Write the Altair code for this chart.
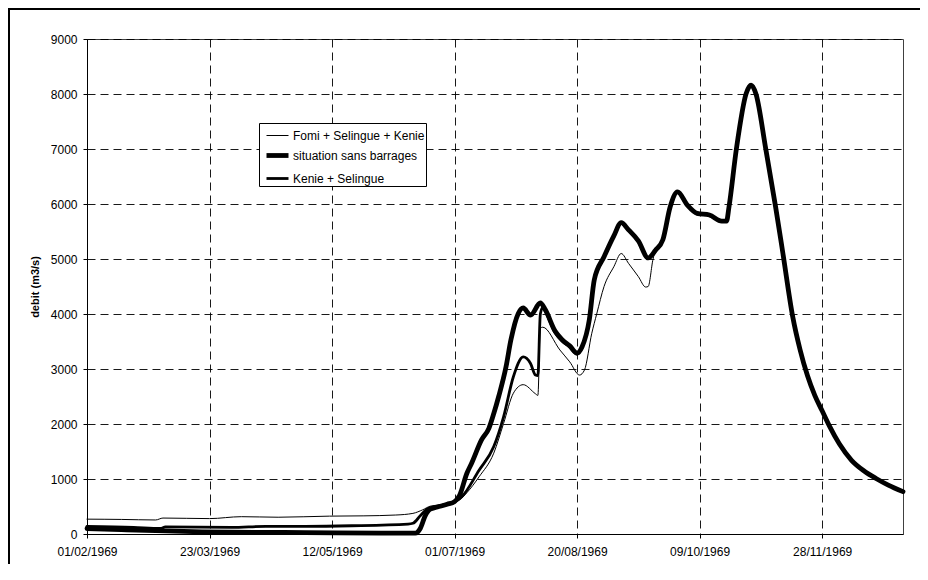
import altair as alt
import pandas as pd

# ---------------- data ----------------
series_names = ["Fomi + Selingue + Kenie", "situation sans barrages", "Kenie + Selingue"]

fomi_dates = ["1969-02-01", "1969-02-15", "1969-03-01", "1969-03-04", "1969-03-23", "1969-04-05",
              "1969-04-20", "1969-05-11", "1969-05-25", "1969-06-07", "1969-06-14", "1969-06-18",
              "1969-06-21", "1969-06-25", "1969-06-28", "1969-07-01", "1969-07-03", "1969-07-06",
              "1969-07-11", "1969-07-17", "1969-07-21", "1969-07-25", "1969-07-29", "1969-08-03",
              "1969-08-04", "1969-08-05", "1969-08-06", "1969-08-13", "1969-08-17", "1969-08-21",
              "1969-08-23", "1969-08-26", "1969-08-28", "1969-08-31", "1969-09-04", "1969-09-07",
              "1969-09-10", "1969-09-14", "1969-09-17", "1969-09-18", "1969-09-20", "1969-09-21",
              "1969-09-24", "1969-09-27", "1969-09-30", "1969-10-04", "1969-10-08", "1969-10-13",
              "1969-10-18", "1969-10-20", "1969-10-21", "1969-10-24", "1969-10-28", "1969-10-30",
              "1969-11-01", "1969-11-05", "1969-11-09", "1969-11-12", "1969-11-16", "1969-11-19",
              "1969-11-22", "1969-11-25", "1969-11-28", "1969-12-01", "1969-12-05", "1969-12-10",
              "1969-12-15", "1969-12-20", "1969-12-25", "1969-12-31"]
fomi_values = [270, 265, 255, 290, 280, 315,
               305, 325, 330, 345, 375, 440,
               505, 530, 555, 600, 620, 750,
               1040, 1470, 2010, 2560, 2715, 2550,
               2520, 3740, 3760, 3345, 3130, 2890,
               2980, 3650, 4000, 4500, 4860, 5100,
               4920, 4680, 4490, 4500, 5000, 5160,
               5330, 5930, 6200, 5960, 5810, 5780,
               5670, 5670, 5930, 6980, 7990, 8140,
               7990, 6990, 5940, 5090, 3940, 3340,
               2870, 2510, 2230, 1950, 1630, 1330,
               1140, 1000, 880, 760]

sans_dates = ["1969-02-01", "1969-02-15", "1969-03-01", "1969-03-20", "1969-04-10", "1969-05-01",
              "1969-06-01", "1969-06-15", "1969-06-17", "1969-06-19", "1969-06-21", "1969-06-24",
              "1969-06-28", "1969-07-01", "1969-07-03", "1969-07-06", "1969-07-08", "1969-07-12",
              "1969-07-15", "1969-07-17", "1969-07-19", "1969-07-22", "1969-07-24", "1969-07-27",
              "1969-07-29", "1969-08-01", "1969-08-05", "1969-08-07", "1969-08-11", "1969-08-14",
              "1969-08-17", "1969-08-20", "1969-08-22", "1969-08-25", "1969-08-27", "1969-08-31",
              "1969-09-04", "1969-09-07", "1969-09-10", "1969-09-14", "1969-09-18", "1969-09-21",
              "1969-09-24", "1969-09-27", "1969-09-30", "1969-10-04", "1969-10-08", "1969-10-13",
              "1969-10-18", "1969-10-20", "1969-10-21", "1969-10-24", "1969-10-28", "1969-10-30",
              "1969-11-01", "1969-11-05", "1969-11-09", "1969-11-12", "1969-11-16", "1969-11-19",
              "1969-11-22", "1969-11-25", "1969-11-28", "1969-12-01", "1969-12-05", "1969-12-10",
              "1969-12-15", "1969-12-20", "1969-12-25", "1969-12-31"]
sans_values = [100, 80, 60, 40, 30, 25,
               15, 15, 100, 330, 450, 490,
               540, 590, 700, 1100, 1290, 1710,
               1920, 2190, 2500, 3040, 3530, 4010,
               4110, 3980, 4200, 4080, 3690, 3530,
               3420, 3290, 3400, 3900, 4620, 5040,
               5420, 5660, 5530, 5330, 5020, 5160,
               5350, 5950, 6220, 5980, 5830, 5800,
               5690, 5690, 5950, 7000, 8010, 8160,
               8000, 7000, 5950, 5100, 3950, 3350,
               2880, 2520, 2240, 1960, 1640, 1340,
               1150, 1010, 890, 770]

kenie_dates = ["1969-02-01", "1969-02-20", "1969-03-03", "1969-03-05", "1969-04-01", "1969-04-15",
               "1969-05-01", "1969-05-20", "1969-06-12", "1969-06-14", "1969-06-17", "1969-06-20",
               "1969-06-24", "1969-06-28", "1969-07-01", "1969-07-04", "1969-07-11", "1969-07-17",
               "1969-07-21", "1969-07-25", "1969-07-29", "1969-08-01", "1969-08-03", "1969-08-04",
               "1969-08-05", "1969-08-06", "1969-08-07", "1969-08-11", "1969-08-14", "1969-08-17",
               "1969-08-20", "1969-08-22", "1969-08-25", "1969-08-27", "1969-08-31", "1969-09-04",
               "1969-09-07", "1969-09-10", "1969-09-14", "1969-09-18", "1969-09-21", "1969-09-24",
               "1969-09-27", "1969-09-30", "1969-10-04", "1969-10-08", "1969-10-13", "1969-10-18",
               "1969-10-20", "1969-10-21", "1969-10-24", "1969-10-28", "1969-10-30",
               "1969-11-01", "1969-11-05", "1969-11-09", "1969-11-12", "1969-11-16", "1969-11-19",
               "1969-11-22", "1969-11-25", "1969-11-28", "1969-12-01", "1969-12-05", "1969-12-10",
               "1969-12-15", "1969-12-20", "1969-12-25", "1969-12-31"]
kenie_values = [140, 120, 100, 130, 120, 140,
                140, 150, 180, 195, 330, 460,
                500, 545, 580, 680, 1160, 1590,
                2130, 2860, 3220, 3100, 2890, 2880,
                4000, 4120, 4050, 3660, 3500, 3400,
                3270, 3390, 3890, 4610, 5030, 5410,
                5650, 5520, 5320, 5010, 5150, 5340,
                5940, 6210, 5970, 5820, 5790, 5680,
                5680, 5940, 6990, 8000, 8150,
                7995, 6995, 5945, 5095, 3945, 3345,
                2875, 2515, 2235, 1955, 1635, 1335,
                1145, 1005, 885, 765]

x_tick_dates = ["1969-02-01", "1969-03-23", "1969-05-12", "1969-07-01",
                "1969-08-20", "1969-10-09", "1969-11-28"]
y_ticks = [0, 1000, 2000, 3000, 4000, 5000, 6000, 7000, 8000, 9000]

# ---------------- build table ----------------
rows = []
for name, ds, vs in [(series_names[0], fomi_dates, fomi_values),
                     (series_names[1], sans_dates, sans_values),
                     (series_names[2], kenie_dates, kenie_values)]:
    for d, v in zip(ds, vs):
        rows.append({"date": d, "debit": v, "serie": name})
df = pd.DataFrame(rows)


def ms(d):
    return int(pd.Timestamp(d, tz="UTC").value // 10**6)


x_ticks_ms = [ms(d) for d in x_tick_dates]
x_domain = [ms("1969-02-01"), ms("1969-12-31")]

FONT = "Liberation Sans"

legend_props = dict(title=None, orient="none", legendX=172, legendY=84,
                    fillColor="#ffffff", strokeColor="#000000",
                    padding=1, symbolType="stroke", symbolSize=484,
                    symbolOffset=4, rowPadding=-1,
                    labelFont=FONT, labelFontSize=12,
                    labelColor="#000", labelOffset=2)

lines = alt.Chart(df).mark_line(interpolate="monotone", strokeCap="round",
                                strokeJoin="round").encode(
    x=alt.X("date:T",
            scale=alt.Scale(type="utc", domain=x_domain, nice=False),
            axis=alt.Axis(values=x_ticks_ms, title=None,
                          labelExpr="utcFormat(datum.value, '%d/%m/%Y')",
                          labelFont=FONT, labelFontSize=12, labelColor="#000",
                          labelPadding=8, tickSize=4, tickColor="#000",
                          domainColor="#000", labelFlush=False,
                          grid=True, gridColor="#000", gridDash=[8, 5],
                          gridWidth=1, gridOpacity=0.9)),
    y=alt.Y("debit:Q",
            scale=alt.Scale(domain=[0, 9000], nice=False),
            axis=alt.Axis(values=y_ticks, format="d", title="debit (m3/s)",
                          titleFont=FONT, titleFontSize=11, titleFontWeight="bold",
                          titleColor="#000", titlePadding=10,
                          labelFont=FONT, labelFontSize=12, labelColor="#000",
                          labelPadding=6, tickSize=4, tickColor="#000",
                          domainColor="#000",
                          grid=True, gridColor="#000", gridDash=[8, 5],
                          gridWidth=1, gridOpacity=0.9)),
    color=alt.Color("serie:N",
                    scale=alt.Scale(domain=series_names,
                                    range=["#000000", "#000000", "#000000"]),
                    legend=alt.Legend(**legend_props)),
    strokeWidth=alt.StrokeWidth("serie:N",
                                scale=alt.Scale(type="ordinal", domain=series_names,
                                                range=[1, 4.8, 2.8]),
                                legend=alt.Legend(**legend_props)),
    detail="serie:N",
)

# outer frame of the figure (only its left and top edges fall inside the picture)
frame_left = alt.Chart(pd.DataFrame({"f": [0]})).mark_rect(
    fill="#000000", strokeWidth=0
).encode(x=alt.value(-79), x2=alt.value(-77), y=alt.value(-31), y2=alt.value(540))
frame_top = alt.Chart(pd.DataFrame({"f": [0]})).mark_rect(
    fill="#000000", strokeWidth=0
).encode(x=alt.value(-79), x2=alt.value(840), y=alt.value(-31), y2=alt.value(-29))

chart = alt.layer(lines, frame_left, frame_top).properties(
    width=816, height=495,
    autosize=alt.AutoSizeParams(type="none"),
    padding={"left": 79, "top": 31, "right": 17, "bottom": 30},
    background="#ffffff",
).configure_view(stroke="#404040", strokeWidth=1)

chart.save("out.html", embed_options={"renderer": "svg", "actions": False})
